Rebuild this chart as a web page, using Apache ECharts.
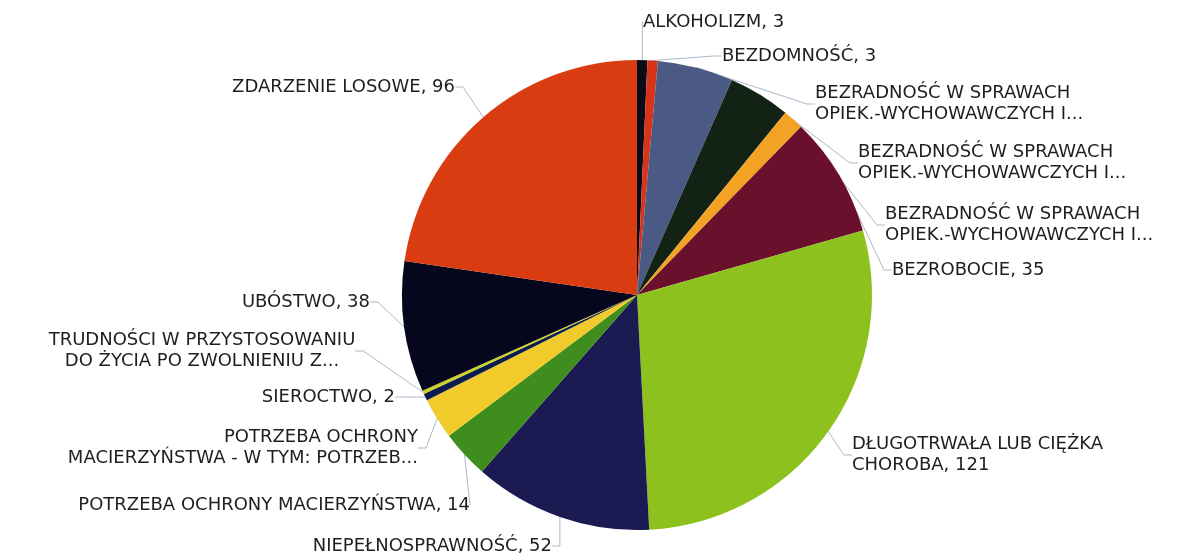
<!DOCTYPE html>
<html>
<head>
    <meta charset="utf-8" />
    <title>Powody przyznania pomocy</title>
    <script src="https://cdn.jsdelivr.net/npm/echarts@6/dist/echarts.min.js"></script>
    <style>
        html, body { margin: 0; padding: 0; background: #fff; }
        #container { width: 1201px; height: 557px; }
    </style>
</head>
<body>
    <div id="container"></div>
    <script>
    // kategorie (kolejnosc zgodnie z ruchem wskazowek zegara od godziny 12)
    var categories = [
        'ALKOHOLIZM',
        'BEZDOMNOŚĆ',
        'BEZRADNOŚĆ W SPRAWACH\nOPIEK.-WYCHOWAWCZYCH I...',
        'BEZRADNOŚĆ W SPRAWACH\nOPIEK.-WYCHOWAWCZYCH I...',
        'BEZRADNOŚĆ W SPRAWACH\nOPIEK.-WYCHOWAWCZYCH I...',
        'BEZROBOCIE',
        'DŁUGOTRWAŁA LUB CIĘŻKA\nCHOROBA',
        'NIEPEŁNOSPRAWNOŚĆ',
        'POTRZEBA OCHRONY MACIERZYŃSTWA',
        'POTRZEBA OCHRONY\nMACIERZYŃSTWA - W TYM: POTRZEB...',
        'SIEROCTWO',
        'TRUDNOŚCI W PRZYSTOSOWANIU\nDO ŻYCIA PO ZWOLNIENIU Z...',
        'UBÓSTWO',
        'ZDARZENIE LOSOWE'
    ];
    var values = [3, 3, 22, 18, 6, 35, 121, 52, 14, 12, 2, 1, 38, 96];
    var colors = ['#0c0c18', '#d8341a', '#4b5a84', '#122214', '#f3a224', '#6a0f2c',
                  '#8dc21e', '#1b1a52', '#3f8d1c', '#f1ca2c', '#0b1c4c', '#c9d226',
                  '#06061c', '#d93c10'];

    // miejsca etykiet (kotwica tekstu) - jak na oryginale
    var labelPos = [
        [643, 22, 'left'], [722, 56, 'left'], [815, 104, 'left'], [858, 163, 'left'],
        [885, 225, 'left'], [892, 270, 'left'], [852, 455, 'left'], [552, 546, 'right'],
        [470, 505, 'right'], [418, 448, 'right'], [395, 397, 'right'], [202, 351, 'center'],
        [370, 302, 'right'], [455, 87, 'right']
    ];

    var dataArr = [];
    for (var i = 0; i < categories.length; i++) {
        dataArr.push({ name: categories[i], value: values[i], itemStyle: { color: colors[i] } });
    }

    var myChart = echarts.init(document.getElementById('container'));
    var option = {
        backgroundColor: '#fff',
        animation: false,
        series: [{
            type: 'pie',
            center: [637, 295],
            radius: 235,
            startAngle: 90,
            clockwise: true,
            label: {
                show: true,
                color: '#1e1e1e',
                fontFamily: 'DejaVu Sans',
                fontSize: 18,
                lineHeight: 21,
                formatter: function (p) {
                    // ucięte nazwy nie mają wartości
                    if (p.name.slice(-3) === '...') return p.name;
                    return p.name + ', ' + p.value;
                }
            },
            labelLine: {
                show: true,
                length: 18,
                length2: 8,
                lineStyle: { color: '#a9b9c9', width: 1 }
            },
            labelLayout: function (params) {
                var p = labelPos[params.dataIndex];
                return { x: p[0], y: p[1], align: p[2], verticalAlign: 'middle' };
            },
            itemStyle: { borderWidth: 0 },
            emphasis: { disabled: true },
            data: dataArr
        }]
    };
    myChart.setOption(option);
    </script>
</body>
</html>
